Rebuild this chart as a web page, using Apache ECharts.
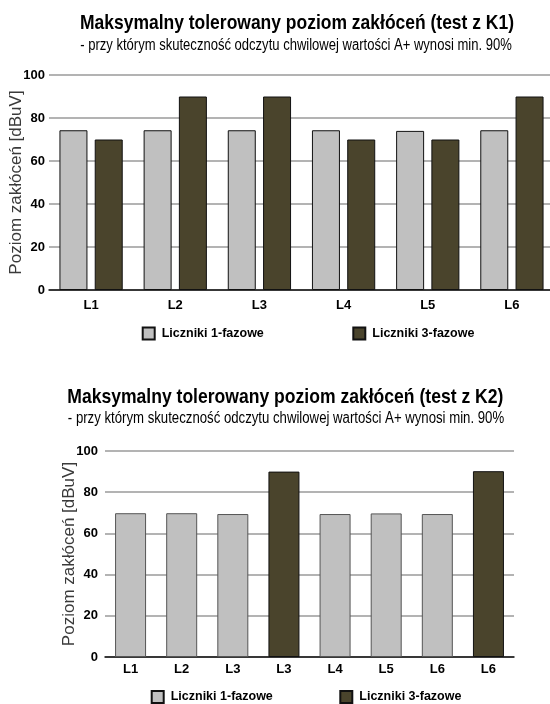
<!DOCTYPE html>
<html>
<head>
<meta charset="utf-8">
<script src="https://cdn.jsdelivr.net/npm/echarts@6/dist/echarts.min.js"></script>
<style>
html,body{margin:0;padding:0;background:#fff;}
#chart{width:550px;height:704px;}
</style>
</head>
<body>
<div id="chart"></div>
<script>
// ---- data ----
var categoriesK1 = ['L1', 'L2', 'L3', 'L4', 'L5', 'L6'];
var singlePhaseK1 = [74.3, 74.3, 74.3, 74.3, 74.0, 74.3];
var threePhaseK1 = [70, 90, 90, 70, 70, 90];

var categoriesK2 = ['L1', 'L2', 'L3', 'L3', 'L4', 'L5', 'L6', 'L6'];
var singlePhaseK2 = [69.8, 69.8, 69.4, null, 69.4, 69.7, 69.4, null];
var threePhaseK2 = [null, null, null, 90, null, null, null, 90.2];

var yTicks = {min: 0, max: 100, interval: 20};

var seriesNames = ['Liczniki 1-fazowe', 'Liczniki 3-fazowe'];
var titleK1 = 'Maksymalny tolerowany poziom zakłóceń (test z K1)';
var titleK2 = 'Maksymalny tolerowany poziom zakłóceń (test z K2)';
var subtitle = '- przy którym skuteczność odczytu chwilowej wartości A+ wynosi min. 90%';
var yName = 'Poziom zakłóceń [dBuV]';

// ---- styles ----
var FONT = "'Liberation Sans', Arial, sans-serif";
var LIGHT = '#c0c0c0';
var DARK = '#4a442c';

function yAxis(gridIndex, gap, margin) {
  return {
    type: 'value', gridIndex: gridIndex,
    min: yTicks.min, max: yTicks.max, interval: yTicks.interval,
    axisLine: {show: false}, axisTick: {show: false},
    axisLabel: {color: '#000', fontFamily: FONT, fontWeight: 'bold', fontSize: 13, margin: margin},
    splitLine: {lineStyle: {color: '#9a9a9a', width: 1.5}},
    name: yName, nameLocation: 'middle', nameGap: gap, nameRotate: 90, nameMoveOverlap: false,
    nameTextStyle: {color: '#3a3a3a', fontFamily: FONT, fontSize: 17}
  };
}
function xAxis(gridIndex, cats, margin) {
  return {
    type: 'category', gridIndex: gridIndex, data: cats,
    axisLine: {lineStyle: {color: '#111', width: 1.5}},
    axisTick: {show: false},
    axisLabel: {color: '#000', fontFamily: FONT, fontWeight: 'bold', fontSize: 13, margin: margin, interval: 0}
  };
}
function legend(name, left, top) {
  return {
    data: [name], left: left, top: top, padding: 0, itemWidth: 12, itemHeight: 12, itemGap: 0,
    icon: 'rect', selectedMode: false,
    textStyle: {color: '#000', fontFamily: FONT, fontWeight: 'bold', fontSize: 12.5, padding: [0, 0, 0, 2]}
  };
}
function textEl(txt, x, y, font, sx) {
  return {type: 'text', x: x, y: y, scaleX: sx,
    style: {text: txt, font: font, fill: '#000', textAlign: 'center', textVerticalAlign: 'middle'}};
}

var chart = echarts.init(document.getElementById('chart'), null, {renderer: 'canvas'});
chart.setOption({
  animation: false,
  backgroundColor: '#fff',
  graphic: [
    textEl(titleK1, 297, 23.5, 'bold 21px ' + FONT, 0.832),
    textEl(subtitle, 296, 46, '16px ' + FONT, 0.815),
    textEl(titleK2, 285.3, 397.5, 'bold 21px ' + FONT, 0.836),
    textEl(subtitle, 286, 419, '16px ' + FONT, 0.824)
  ],
  legend: [
    legend(seriesNames[0], 141.7, 326.5),
    legend(seriesNames[1], 352.3, 326.5),
    legend(seriesNames[0], 150.7, 690),
    legend(seriesNames[1], 339.3, 690)
  ],
  grid: [
    {left: 49, top: 75, width: 505, height: 215, outerBoundsMode: 'none', containLabel: false},
    {left: 105, top: 451, width: 409, height: 206, outerBoundsMode: 'none', containLabel: false}
  ],
  xAxis: [xAxis(0, categoriesK1, 9), xAxis(1, categoriesK2, 6)],
  yAxis: [yAxis(0, 24, 4), yAxis(1, 27, 7)],
  series: [
    {name: seriesNames[0], type: 'bar', xAxisIndex: 0, yAxisIndex: 0, data: singlePhaseK1,
     barWidth: 28, barGap: '26%', itemStyle: {color: LIGHT, borderColor: '#111', borderWidth: 1}},
    {name: seriesNames[1], type: 'bar', xAxisIndex: 0, yAxisIndex: 0, data: threePhaseK1,
     barWidth: 28, barGap: '26%', itemStyle: {color: DARK, borderColor: '#111', borderWidth: 1}},
    {name: seriesNames[0], type: 'bar', xAxisIndex: 1, yAxisIndex: 1, data: singlePhaseK2,
     barWidth: 31, barGap: '-100%', itemStyle: {color: LIGHT, borderColor: '#555', borderWidth: 1}},
    {name: seriesNames[1], type: 'bar', xAxisIndex: 1, yAxisIndex: 1, data: threePhaseK2,
     barWidth: 31, barGap: '-100%', itemStyle: {color: DARK, borderColor: '#111', borderWidth: 1}}
  ]
});
</script>
</body>
</html>
